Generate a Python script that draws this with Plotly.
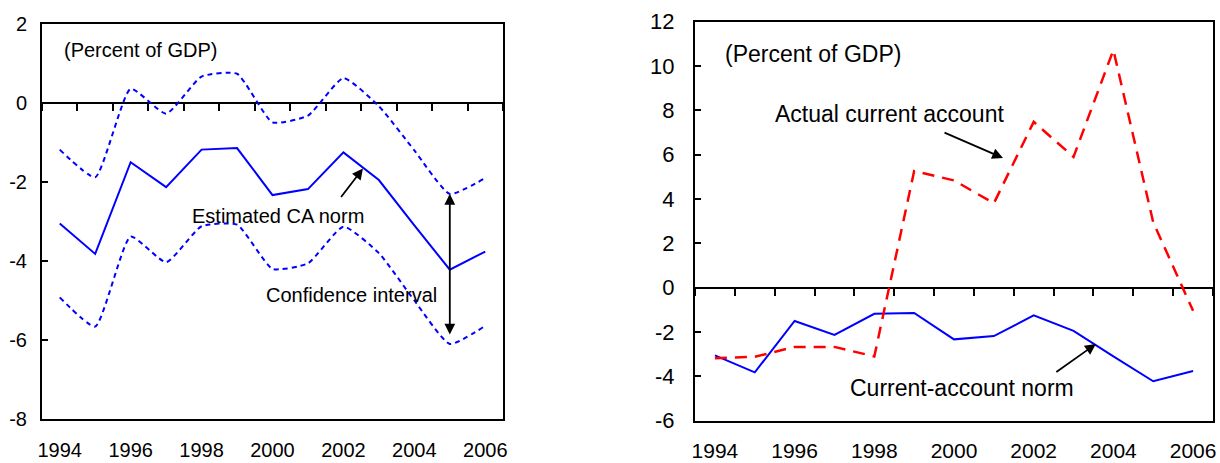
"""
Current account norm vs actual current account, two panels.
"""

import plotly.graph_objects as go


# --- data ---
years = list(range(1994, 2007))
label_years = [1994, 1996, 1998, 2000, 2002, 2004, 2006]

ca_norm = [-3.05, -3.82, -1.50, -2.13, -1.18, -1.14, -2.33, -2.18, -1.25, -1.95, -3.10, -4.22, -3.76]
ci_upper = [-1.18, -1.88, 0.36, -0.27, 0.67, 0.74, -0.49, -0.32, 0.63, -0.08, -1.20, -2.30, -1.90]
ci_lower = [-4.92, -5.66, -3.38, -4.03, -3.12, -3.08, -4.20, -4.06, -3.13, -3.80, -5.00, -6.10, -5.64]
actual_ca = [-3.18, -3.12, -2.67, -2.67, -3.10, 5.26, 4.84, 3.81, 7.48, 5.90, 10.72, 2.95, -1.04]

left_y_ticks = [2, 0, -2, -4, -6, -8]
right_y_ticks = [12, 10, 8, 6, 4, 2, 0, -2, -4, -6]


# --- layout geometry (pixels of a 1220x463 page) ---
W, H = 1220, 463
BLUE = "#0000FF"
RED = "#FF0000"
FONT = "Liberation Sans, Arial, sans-serif"

x_range = [years[0] - 0.5, years[-1] + 0.5]
boundaries = [y + 0.5 for y in range(years[0] - 1, years[-1] + 1)]

left_x_dom = [42 / W, 503 / W]
left_y_dom = [(H - 419) / H, (H - 24) / H]
right_x_dom = [695 / W, 1213 / W]
right_y_dom = [(H - 420.7) / H, (H - 21.7) / H]

left_y_range = [min(left_y_ticks), max(left_y_ticks)]
right_y_range = [min(right_y_ticks), max(right_y_ticks)]


def zero_position(domain, y_range):
    """Paper fraction of the y = 0 line inside a subplot."""
    return domain[0] + (0 - y_range[0]) / (y_range[1] - y_range[0]) * (domain[1] - domain[0])


fig = go.Figure()

dotted = dict(color = BLUE, width = 2, dash = "5px,4px", shape = "spline", smoothing = 0.5)
fig.add_trace(go.Scatter(x = years, y = ci_upper, mode = "lines", line = dotted, xaxis = "x", yaxis = "y", hoverinfo = "skip"))
fig.add_trace(go.Scatter(x = years, y = ci_lower, mode = "lines", line = dotted, xaxis = "x", yaxis = "y", hoverinfo = "skip"))
fig.add_trace(go.Scatter(x = years, y = ca_norm, mode = "lines", line = dict(color = BLUE, width = 2), xaxis = "x3", yaxis = "y"))

fig.add_trace(go.Scatter(x = years, y = ca_norm, mode = "lines", line = dict(color = BLUE, width = 2), xaxis = "x4", yaxis = "y2"))
fig.add_trace(go.Scatter(x = years, y = actual_ca, mode = "lines", line = dict(color = RED, width = 2.5, dash = "12px,8px"), xaxis = "x4", yaxis = "y2"))


def box_xaxis(domain, anchor, size, standoff):
    return dict(
        domain = domain, anchor = anchor, range = x_range, automargin = False,
        tickvals = label_years, ticks = "", ticklabelstandoff = standoff,
        tickfont = dict(size = size),
        showline = True, mirror = True, linecolor = "black", linewidth = 2,
        showgrid = False, zeroline = False,
    )


def box_yaxis(domain, anchor, y_range, ticks, size, standoff):
    return dict(
        domain = domain, anchor = anchor, range = y_range, automargin = False,
        tickvals = ticks, ticktext = [str(t) for t in ticks],
        ticks = "inside", ticklen = 6, tickwidth = 2, tickcolor = "black",
        ticklabelstandoff = standoff, tickfont = dict(size = size),
        showline = True, mirror = True, linecolor = "black", linewidth = 2,
        showgrid = False, zeroline = True, zerolinecolor = "black", zerolinewidth = 2,
    )


def zero_xaxis(overlay, position):
    return dict(
        overlaying = overlay, anchor = "free", position = position, range = x_range, automargin = False,
        tickvals = boundaries, ticks = "outside", ticklen = 7, tickwidth = 2, tickcolor = "black",
        showticklabels = False, showline = False, showgrid = False, zeroline = False,
    )


fig.update_layout(
    width = W, height = H,
    margin = dict(l = 0, r = 0, t = 0, b = 0, pad = 0),
    paper_bgcolor = "white", plot_bgcolor = "white",
    showlegend = False,
    font = dict(family = FONT, color = "black"),
    xaxis = box_xaxis(left_x_dom, "y", 20, 12),
    yaxis = box_yaxis(left_y_dom, "x", left_y_range, left_y_ticks, 20, 9),
    xaxis2 = box_xaxis(right_x_dom, "y2", 21, 10),
    yaxis2 = box_yaxis(right_y_dom, "x2", right_y_range, right_y_ticks, 22, 14),
    xaxis3 = zero_xaxis("x", zero_position(left_y_dom, left_y_range)),
    xaxis4 = zero_xaxis("x2", zero_position(right_y_dom, right_y_range)),
)

arrow = dict(showarrow = True, arrowhead = 2, arrowsize = 1.2, arrowwidth = 1.8, arrowcolor = "black", text = "")

annotations = [
    # left panel
    dict(xref = "x", yref = "y", x = 1994.05, y = 1.35, text = "(Percent of GDP)", showarrow = False,
         xanchor = "left", font = dict(size = 20)),
    dict(xref = "x", yref = "y", x = 2000.16, y = -2.85, text = "Estimated CA norm", showarrow = False,
         font = dict(size = 20)),
    dict(xref = "x", yref = "y", x = 2002.24, y = -4.87, text = "Confidence interval", showarrow = False,
         font = dict(size = 20)),
    dict(arrow, xref = "x", yref = "y", x = 2002.55, y = -1.66, ax = -23, ay = 30),
    dict(arrow, xref = "x", yref = "y", x = 2005, y = -2.3, axref = "x", ayref = "y", ax = 2005, ay = -5.9,
         arrowside = "end+start"),
    # right panel
    dict(xref = "x2", yref = "y2", x = 1994.2, y = 10.55, text = "(Percent of GDP)", showarrow = False,
         xanchor = "left", font = dict(size = 23)),
    dict(xref = "x2", yref = "y2", x = 1998.39, y = 7.83, text = "Actual current account", showarrow = False,
         font = dict(size = 23)),
    dict(xref = "x2", yref = "y2", x = 2000.19, y = -4.52, text = "Current-account norm", showarrow = False,
         font = dict(size = 23)),
    dict(arrow, xref = "x2", yref = "y2", x = 2001.23, y = 5.85, ax = -60, ay = -26),
    dict(arrow, xref = "x2", yref = "y2", x = 2003.56, y = -2.54, ax = -41, ay = 29),
]
fig.update_layout(annotations = annotations)

# the page's default 8px body margin would push the fixed-size figure off screen
fig.write_html(
    "out.html",
    config = {"displayModeBar": False},
    post_script = "document.body.style.margin = '0';",
)
